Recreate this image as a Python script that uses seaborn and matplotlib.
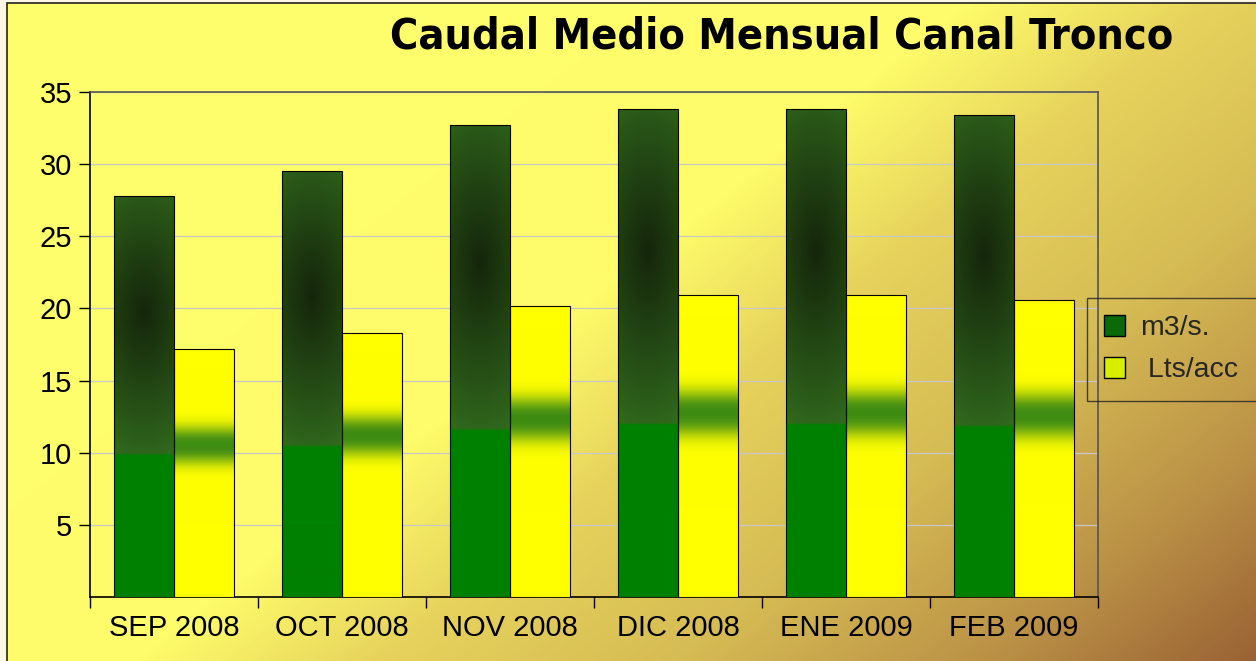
import numpy as np
import pandas as pd
import matplotlib
matplotlib.use("Agg")
import matplotlib.pyplot as plt
import seaborn as sns
from matplotlib.colors import LinearSegmentedColormap, to_rgb
from matplotlib.patches import Patch, Rectangle

months = ["SEP 2008", "OCT 2008", "NOV 2008", "DIC 2008", "ENE 2009", "FEB 2009"]
m3s = [27.8, 29.5, 32.7, 33.8, 33.8, 33.4]
lts_acc = [17.2, 18.3, 20.2, 20.9, 20.9, 20.6]
series_names = ["m3/s.", "Lts/acc"]
title = "Caudal Medio Mensual Canal Tronco"

df = pd.DataFrame({
    "Mes": months * 2,
    "Valor": m3s + lts_acc,
    "Serie": [series_names[0]] * len(months) + [series_names[1]] * len(months),
})

sns.set_theme(style="white")
plt.rcParams["font.family"] = ["Liberation Sans", "DejaVu Sans"]

fig = plt.figure(figsize=(12.56, 6.61), dpi=100)
fig.patch.set_facecolor("#fbf7e4")

# background gradient (chart area frame starting at (7,3) px)
fx0, fy1 = 7/1256, 1-3/661
bg = fig.add_axes([fx0, 0, 1-fx0, fy1], zorder=-10)
bg.set_axis_off()
H, W = 331, 628
yy, xx = np.mgrid[0:H, 0:W]
t = (xx / W) * 0.6 + (yy / H) * 0.4
cmap_bg = LinearSegmentedColormap.from_list(
    "bg", [(0.0, "#ffff6e"), (0.46, "#fefc6a"), (0.58, "#e6d25c"),
           (0.72, "#d6bc54"), (0.86, "#bd9447"), (1.0, "#9a6234")])
bg.imshow(cmap_bg(t), aspect="auto", extent=[0, 1, 0, 1], origin="upper")
bg.set_xlim(0, 1); bg.set_ylim(0, 1)
fig.add_artist(Rectangle((fx0, -0.01), 1.0, fy1 + 0.01, transform=fig.transFigure,
                         facecolor="none", edgecolor="#222222", linewidth=1.2))

ax = fig.add_axes([90/1256, 1-597/661, (1098-90)/1256, (597-92)/661])
ax.set_facecolor("none")

sns.barplot(data=df, x="Mes", y="Valor", hue="Serie", ax=ax,
            palette=["#008000", "#ffff00"], width=0.714, dodge=True,
            edgecolor="black", linewidth=0.8, saturation=1, legend=False, zorder=3)

ax.set_ylim(0, 35)
ax.set_xlim(-0.5, len(months) - 0.5)
ax.set_yticks(np.arange(5, 36, 5))
ax.set_xlabel(""); ax.set_ylabel("")
ax.grid(axis="y", color="#c8c8c8", linewidth=0.9, zorder=0)
ax.set_axisbelow(True)

# gradient fills in bars
def green_img():
    n = 200
    fy = np.linspace(0, 1, n)[:, None]
    fx = np.linspace(-1, 1, 60)[None, :]
    base = np.array(to_rgb("#008000"))
    top = np.array(to_rgb("#357420"))
    dark = np.array(to_rgb("#15260b"))
    d = np.sqrt(((fy - 0.71) / 0.42) ** 2 + (fx / 3.0) ** 2)
    w = np.clip(1 - d, 0, 1) ** 0.9
    img = top[None, None, :] * (1 - w[..., None]) + dark[None, None, :] * w[..., None]
    mask = np.broadcast_to(fy < 0.355, (n, 60))
    img = img.copy()
    img[mask] = base
    return img

def yellow_img():
    n = 200
    fy = np.linspace(0, 1, n)[:, None]
    fx = np.linspace(-1, 1, 60)[None, :]
    yel = np.array(to_rgb("#ffff00"))
    grn = np.array(to_rgb("#3f8c14"))
    w = np.exp(-(np.abs(fy - 0.61) / 0.075) ** 2.5) * np.ones_like(fx)
    return yel[None, None, :] * (1 - w[..., None]) + grn[None, None, :] * w[..., None]

gimg, yimg = green_img(), yellow_img()
for i, p in enumerate(ax.patches):
    x0, w_, h_ = p.get_x(), p.get_width(), p.get_height()
    if h_ <= 0:
        continue
    img = gimg if i < len(months) else yimg
    im = ax.imshow(img, extent=[x0, x0 + w_, 0, h_], origin="lower",
                   aspect="auto", zorder=3.5, interpolation="bilinear")
    im.set_clip_path(p)
    p.set_facecolor("none"); p.set_zorder(4)
ax.set_xlim(-0.5, len(months) - 0.5)
ax.set_ylim(0, 35)

for s in ["top", "right"]:
    ax.spines[s].set_color("#555555"); ax.spines[s].set_linewidth(1.2)
ax.spines["left"].set_color("black"); ax.spines["bottom"].set_color("black")
ax.spines["left"].set_linewidth(1.2); ax.spines["bottom"].set_linewidth(1.2)

ax.tick_params(axis="y", which="major", direction="out", length=8, width=1,
               color="black", labelsize=21, pad=5, left=True)
ax.tick_params(axis="x", which="major", length=0, labelsize=21, pad=12)
ax.set_xticks(np.arange(-0.5, len(months) + 0.5, 1), minor=True)
ax.tick_params(axis="x", which="minor", direction="out", length=8, width=1,
               color="black", bottom=True)
for lab in ax.get_xticklabels() + ax.get_yticklabels():
    lab.set_color("black")

fig.text(0.622, 0.9455, title, ha="center", va="center", fontsize=31,
         fontweight="bold", family="DejaVu Sans", fontstretch="condensed",
         color="black")

handles = [Patch(facecolor="#0a6a0a", edgecolor="black", label=series_names[0]),
           Patch(facecolor="#d8ee00", edgecolor="black", label=" " + series_names[1])]
leg = fig.legend(handles=handles, loc="upper left",
                 bbox_to_anchor=(1087/1256, 1-398/661, 200/1256, 100/661),
                 mode="expand", frameon=True,
                 fontsize=20.5, handlelength=0.75, handleheight=0.75,
                 borderpad=0.6, labelspacing=0.55, handletextpad=0.5,
                 borderaxespad=0, fancybox=False)
leg.get_frame().set_facecolor("none")
leg.get_frame().set_edgecolor("#222222")
leg.get_frame().set_linewidth(1.0)

fig.savefig("out.png", dpi=100)
